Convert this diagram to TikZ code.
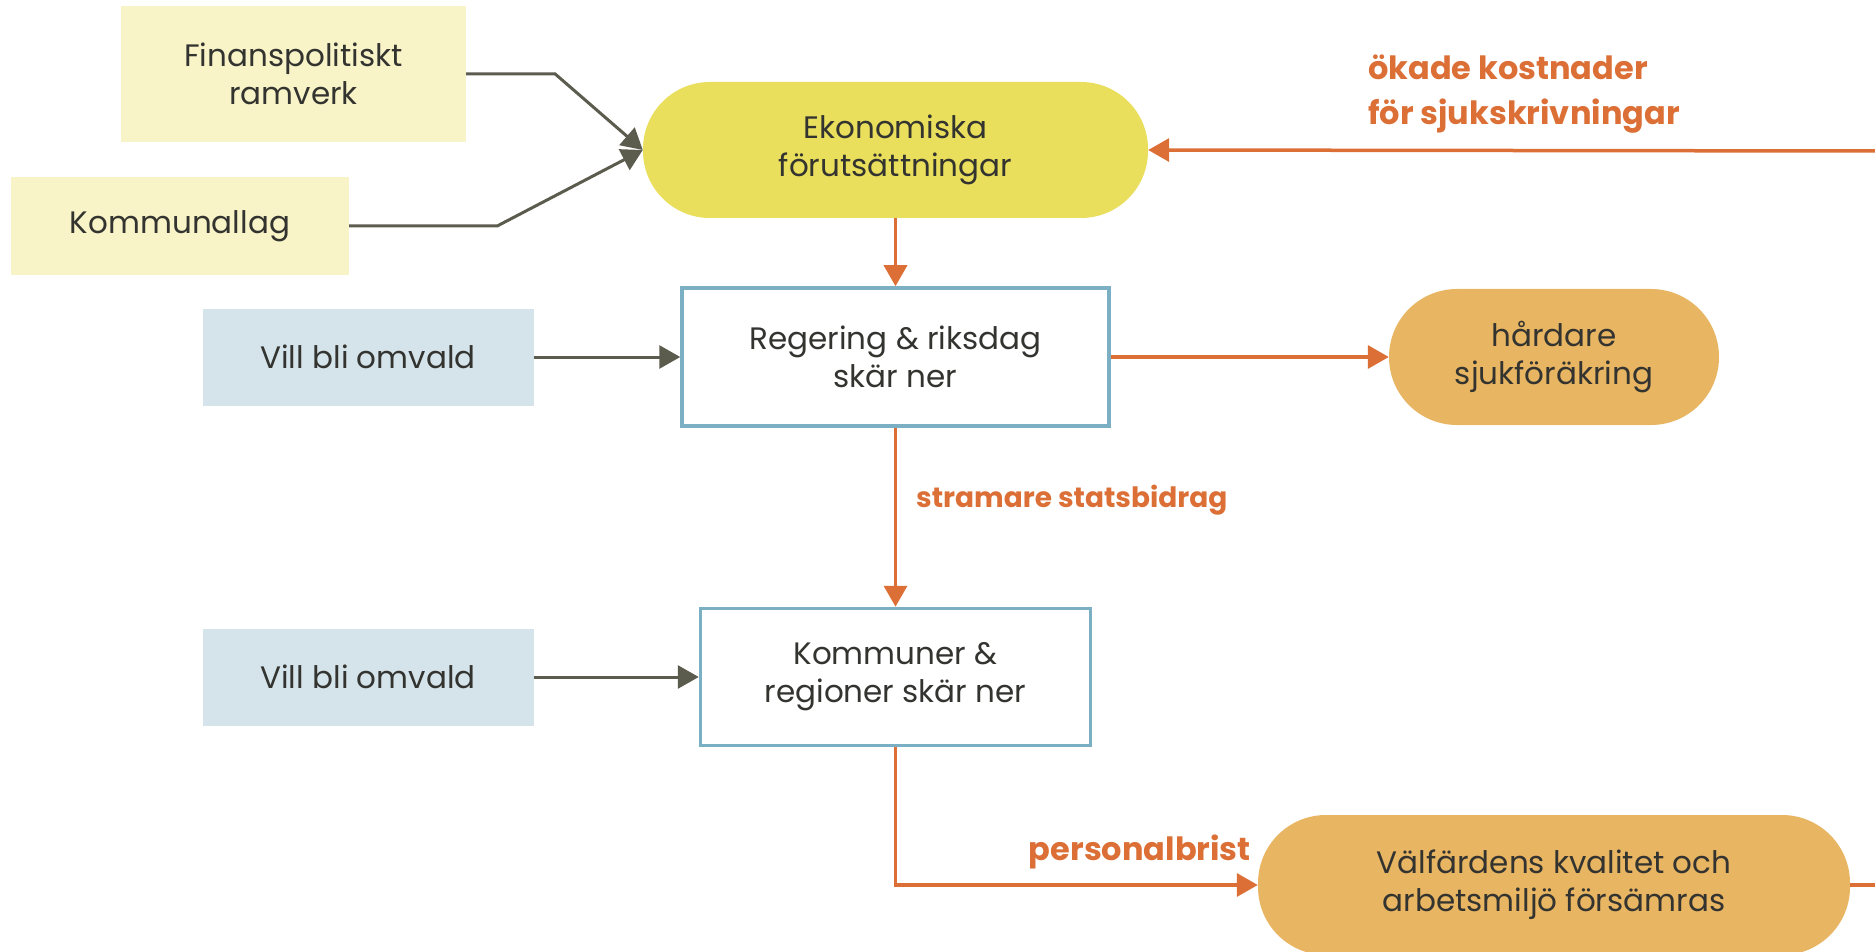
\documentclass[tikz,border=0pt]{standalone}
\usepackage{fontspec}
\setmainfont{Poppins}
\usetikzlibrary{arrows.meta}
\definecolor{lawyellow}{HTML}{F9F4C8}
\definecolor{econyellow}{HTML}{E9DF5C}
\definecolor{voteblue}{HTML}{D5E4EA}
\definecolor{frameblue}{HTML}{7BAFC4}
\definecolor{effectorange}{HTML}{E8B563}
\definecolor{linkorange}{HTML}{DB6F36}
\definecolor{linkgray}{HTML}{5B5B4E}
\definecolor{textdark}{HTML}{333330}

\begin{document}
\begin{tikzpicture}[x=1pt, y=-1pt,
  every node/.style={font=\fontsize{31}{38}\selectfont, text=textdark, align=center, inner sep=0pt},
  lawbox/.style={fill=lawyellow},
  votebox/.style={fill=voteblue, minimum width=331pt, minimum height=97pt},
  actorbox/.style={draw=frameblue, line width=3.5pt, fill=white},
  econpill/.style={fill=econyellow, rounded corners=67pt, minimum width=505pt, minimum height=136pt},
  effectpill/.style={fill=effectorange, rounded corners=68pt},
  graylink/.style={draw=linkgray, line width=3pt, -{Triangle[length=21pt,width=23pt]}},
  orangelink/.style={draw=linkorange, line width=3.5pt, -{Triangle[length=21pt,width=23pt]}},
  linklabel/.style={font=\fontsize{32}{45}\selectfont\bfseries, text=linkorange}]
  \useasboundingbox (0,0) rectangle (1875,952);

  \node[lawbox, minimum width=345pt, minimum height=136pt] (fin) at (293.5,74) {Finanspolitiskt\\ramverk};
  \node[lawbox, minimum width=338pt, minimum height=98pt] (komlag) at (180,226) {Kommunallag};
  \node[econpill] (ekon) at (895.5,150) {Ekonomiska\\förutsättningar};
  \node[votebox] (vote1) at (368,357) {Vill bli omvald};
  \node[actorbox, minimum width=427pt, minimum height=138pt] (reg) at (895.5,357) {Regering \& riksdag\\skär ner};
  \node[effectpill, minimum width=330pt, minimum height=136pt] (hard) at (1554,357) {hårdare\\sjukföräkring};
  \node[votebox] (vote2) at (368,677) {Vill bli omvald};
  \node[actorbox, minimum width=390pt, minimum height=137pt] (komreg) at (895.5,677) {Kommuner \&\\regioner skär ner};
  \node[effectpill, minimum width=592pt, minimum height=140pt] (valf) at (1554,885) {Välfärdens kvalitet och\\arbetsmiljö försämras};
  \coordinate (loopin) at (1875,151);
  \coordinate (loopout) at (1875,885);

  \path[graylink] (fin.east) -- ++(89,0) -- (ekon.west);
  \path[graylink] (komlag.east) -- ++(148,0) -- (ekon.west);
  \path[graylink] (vote1.east) -- (reg.west);
  \path[graylink] (vote2.east) -- (komreg.west);

  \path[orangelink] (loopin) -- (ekon.east);
  \path[orangelink] (ekon.south) -- (reg.north);
  \path[orangelink] (reg.east) -- (hard.west);
  \path[orangelink] (reg.south) -- (komreg.north);
  \path[orangelink] (komreg.south) |- (valf.west);
  \path[draw=linkorange, line width=3.5pt] (valf.east) -- (loopout);

  \node[linklabel, anchor=west, align=left] (costlabel) at (1368,94) {ökade kostnader\\för sjukskrivningar};
  \node[linklabel, font=\fontsize{28}{34}\selectfont\bfseries, anchor=west] (grantlabel) at (916,500) {stramare statsbidrag};
  \node[linklabel, anchor=east] (stafflabel) at (1251,852) {personalbrist};
\end{tikzpicture}
\end{document}
